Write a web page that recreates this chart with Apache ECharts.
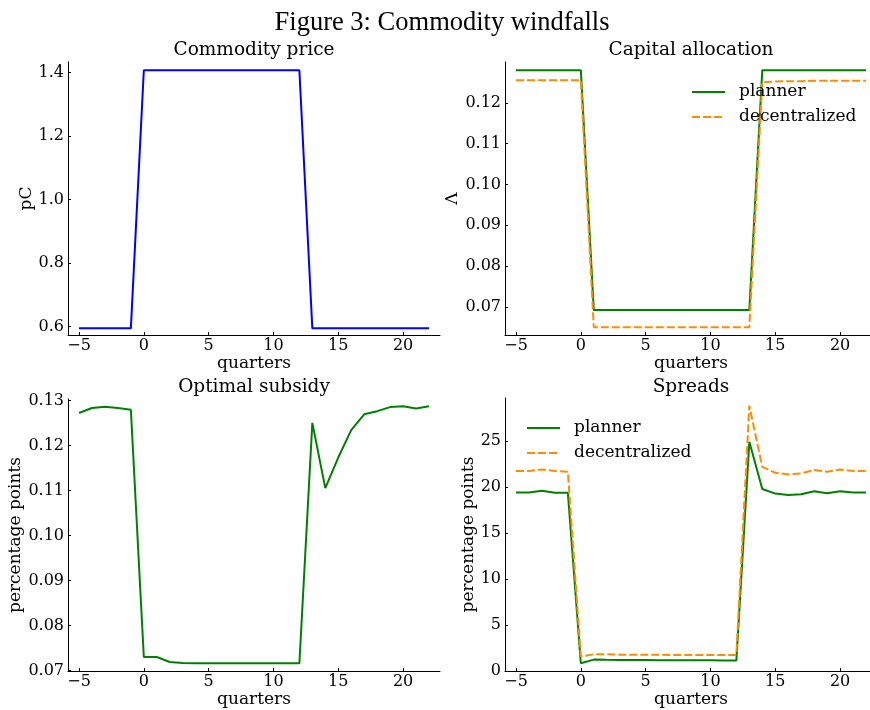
<!DOCTYPE html>
<html>
<head>
<meta charset="utf-8">
<title>Figure 3: Commodity windfalls</title>
<script src="https://cdn.jsdelivr.net/npm/echarts@6/dist/echarts.min.js"></script>
<style>
    html, body { margin: 0; padding: 0; background: #fff; }
    #chart { width: 870px; height: 710px; }
</style>
</head>
<body>
<div id="chart"></div>
<script>
// quarters relative to the windfall
const quarters = [-5, -4, -3, -2, -1, 0, 1, 2, 3, 4, 5, 6, 7, 8, 9, 10, 11, 12, 13, 14, 15, 16, 17, 18, 19, 20, 21, 22];

// Commodity price
const commodityPrice = [0.595, 0.595, 0.595, 0.595, 0.595, 1.407, 1.407, 1.407, 1.407, 1.407, 1.407, 1.407, 1.407, 1.407,
    1.407, 1.407, 1.407, 1.407, 0.595, 0.595, 0.595, 0.595, 0.595, 0.595, 0.595, 0.595, 0.595, 0.595];

// Capital allocation
const capitalPlanner = [0.1280, 0.1280, 0.1280, 0.1280, 0.1280, 0.1280, 0.0692, 0.0692, 0.0692, 0.0692, 0.0692, 0.0692, 0.0692, 0.0692,
    0.0692, 0.0692, 0.0692, 0.0692, 0.0692, 0.1280, 0.1280, 0.1280, 0.1280, 0.1280, 0.1280, 0.1280, 0.1280, 0.1280];
const capitalDecentralized = [0.1255, 0.1255, 0.1255, 0.1255, 0.1255, 0.1255, 0.0650, 0.0650, 0.0650, 0.0650, 0.0650, 0.0650, 0.0650, 0.0650,
    0.0650, 0.0650, 0.0650, 0.0650, 0.0650, 0.1251, 0.1252, 0.1253, 0.1253, 0.1254, 0.1254, 0.1254, 0.1254, 0.1254];

// Optimal subsidy
const optimalSubsidy = [0.1272, 0.1283, 0.1286, 0.1283, 0.1279, 0.0730, 0.0730, 0.0719, 0.0717, 0.0716, 0.0716, 0.0716, 0.0716, 0.0716,
    0.0716, 0.0716, 0.0716, 0.0716, 0.1250, 0.1105, 0.1173, 0.1234, 0.1269, 0.1276, 0.1285, 0.1287, 0.1282, 0.1287];

// Spreads
const spreadsPlanner = [19.42, 19.42, 19.6, 19.38, 19.38, 0.84, 1.24, 1.22, 1.21, 1.2, 1.19, 1.18, 1.17, 1.17,
    1.16, 1.16, 1.15, 1.15, 24.93, 19.8, 19.3, 19.16, 19.23, 19.56, 19.34, 19.56, 19.42, 19.42];
const spreadsDecentralized = [21.75, 21.75, 21.93, 21.75, 21.68, 1.57, 1.82, 1.82, 1.78, 1.77, 1.76, 1.76, 1.75, 1.75,
    1.75, 1.75, 1.75, 1.75, 28.87, 22.2, 21.57, 21.39, 21.5, 21.86, 21.68, 21.93, 21.75, 21.75];

// tick labels
const xTicks = [-5, 0, 5, 10, 15, 20];
const priceTicks = [0.6, 0.8, 1.0, 1.2, 1.4];
const capitalTicks = [0.07, 0.08, 0.09, 0.10, 0.11, 0.12];
const subsidyTicks = [0.07, 0.08, 0.09, 0.10, 0.11, 0.12, 0.13];
const spreadTicks = [0, 5, 10, 15, 20, 25];

const FONT = 'DejaVu Serif';
const chart = echarts.init(document.getElementById('chart'));

const pairs = (vals) => quarters.map((q, i) => [q, vals[i]]);
const minus = (s) => s.replace('-', '\u2212');

const xAxisFor = (gridIndex) => ({
    type: 'value',
    gridIndex: gridIndex,
    min: -5.85,
    max: 22.85,
    name: 'quarters',
    nameLocation: 'middle',
    nameGap: 20,
    nameTextStyle: { fontFamily: FONT, fontSize: 17, color: '#000' },
    axisLine: { show: true, onZero: false, lineStyle: { color: '#000', width: 1 } },
    axisTick: { show: true, inside: true, length: 3, customValues: xTicks, lineStyle: { color: '#000' } },
    axisLabel: {
        customValues: xTicks, margin: 3,
        fontFamily: FONT, fontSize: 16, color: '#000',
        formatter: (v) => minus(String(v))
    },
    splitLine: { show: false }
});

const yAxisFor = (gridIndex, name, min, max, ticks, digits, gap) => ({
    type: 'value',
    gridIndex: gridIndex,
    min: min,
    max: max,
    name: name,
    nameLocation: 'middle',
    nameGap: gap,
    nameTextStyle: { fontFamily: FONT, fontSize: 17, color: '#000' },
    axisLine: { show: true, onZero: false, lineStyle: { color: '#000', width: 1 } },
    axisTick: { show: true, inside: true, length: 3, customValues: ticks, lineStyle: { color: '#000' } },
    axisLabel: {
        customValues: ticks, margin: 4,
        fontFamily: FONT, fontSize: 16, color: '#000',
        formatter: (v) => v.toFixed(digits)
    },
    splitLine: { show: false }
});

const lineSeries = (name, vals, idx, color, dashed) => ({
    name: name,
    type: 'line',
    xAxisIndex: idx,
    yAxisIndex: idx,
    data: pairs(vals),
    symbol: 'none',
    animation: false,
    lineStyle: { color: color, width: 2, type: dashed ? [8, 3] : 'solid' },
    itemStyle: { color: color }
});

// legend shows only the line sample, no marker
const legendFor = (left, top) => ({
    data: ['planner', 'decentralized'],
    orient: 'vertical',
    left: left,
    top: top,
    itemWidth: 33,
    itemHeight: 12,
    itemGap: 5,
    selectedMode: false,
    itemStyle: { opacity: 0 },
    textStyle: { fontFamily: FONT, fontSize: 17, color: '#000', lineHeight: 20, padding: [0, 0, 0, 9] }
});

const titleText = (text, x, y, size, family) => ({
    type: 'text',
    x: x,
    y: y,
    style: { text: text, fill: '#000', font: size + 'px "' + family + '"', textAlign: 'center', textVerticalAlign: 'middle' }
});

const option = {
    backgroundColor: '#fff',
    animation: false,
    grid: [
        { left: 68, top: 62, width: 372, height: 273, outerBoundsMode: 'none' },
        { left: 505, top: 62, width: 372, height: 273, outerBoundsMode: 'none' },
        { left: 68, top: 399, width: 372, height: 272, outerBoundsMode: 'none' },
        { left: 505, top: 398, width: 372, height: 273, outerBoundsMode: 'none' }
    ],
    xAxis: [xAxisFor(0), xAxisFor(1), xAxisFor(2), xAxisFor(3)],
    yAxis: [
        yAxisFor(0, 'pC', 0.574, 1.433, priceTicks, 1, 30),
        yAxisFor(1, '\u039b', 0.0631, 0.1300, capitalTicks, 2, 43),
        yAxisFor(2, 'percentage points', 0.0699, 0.1303, subsidyTicks, 2, 42),
        yAxisFor(3, 'percentage points', 0, 29.7, spreadTicks, 0, 26)
    ],
    legend: [legendFor(686, 77), legendFor(521, 413)],
    graphic: [
        titleText('Figure 3: Commodity windfalls', 442, 23, 26.5, 'Liberation Serif'),
        titleText('Commodity price', 254, 50, 18.5, FONT),
        titleText('Capital allocation', 691, 50, 18.5, FONT),
        titleText('Optimal subsidy', 254, 387, 18.5, FONT),
        titleText('Spreads', 691, 387, 18.5, FONT)
    ],
    series: [
        lineSeries('pC', commodityPrice, 0, '#0000ff', false),
        lineSeries('planner', capitalPlanner, 1, '#008000', false),
        lineSeries('decentralized', capitalDecentralized, 1, '#ff8c00', true),
        lineSeries('subsidy', optimalSubsidy, 2, '#008000', false),
        lineSeries('planner', spreadsPlanner, 3, '#008000', false),
        lineSeries('decentralized', spreadsDecentralized, 3, '#ff8c00', true)
    ]
};

chart.setOption(option);
</script>
</body>
</html>
